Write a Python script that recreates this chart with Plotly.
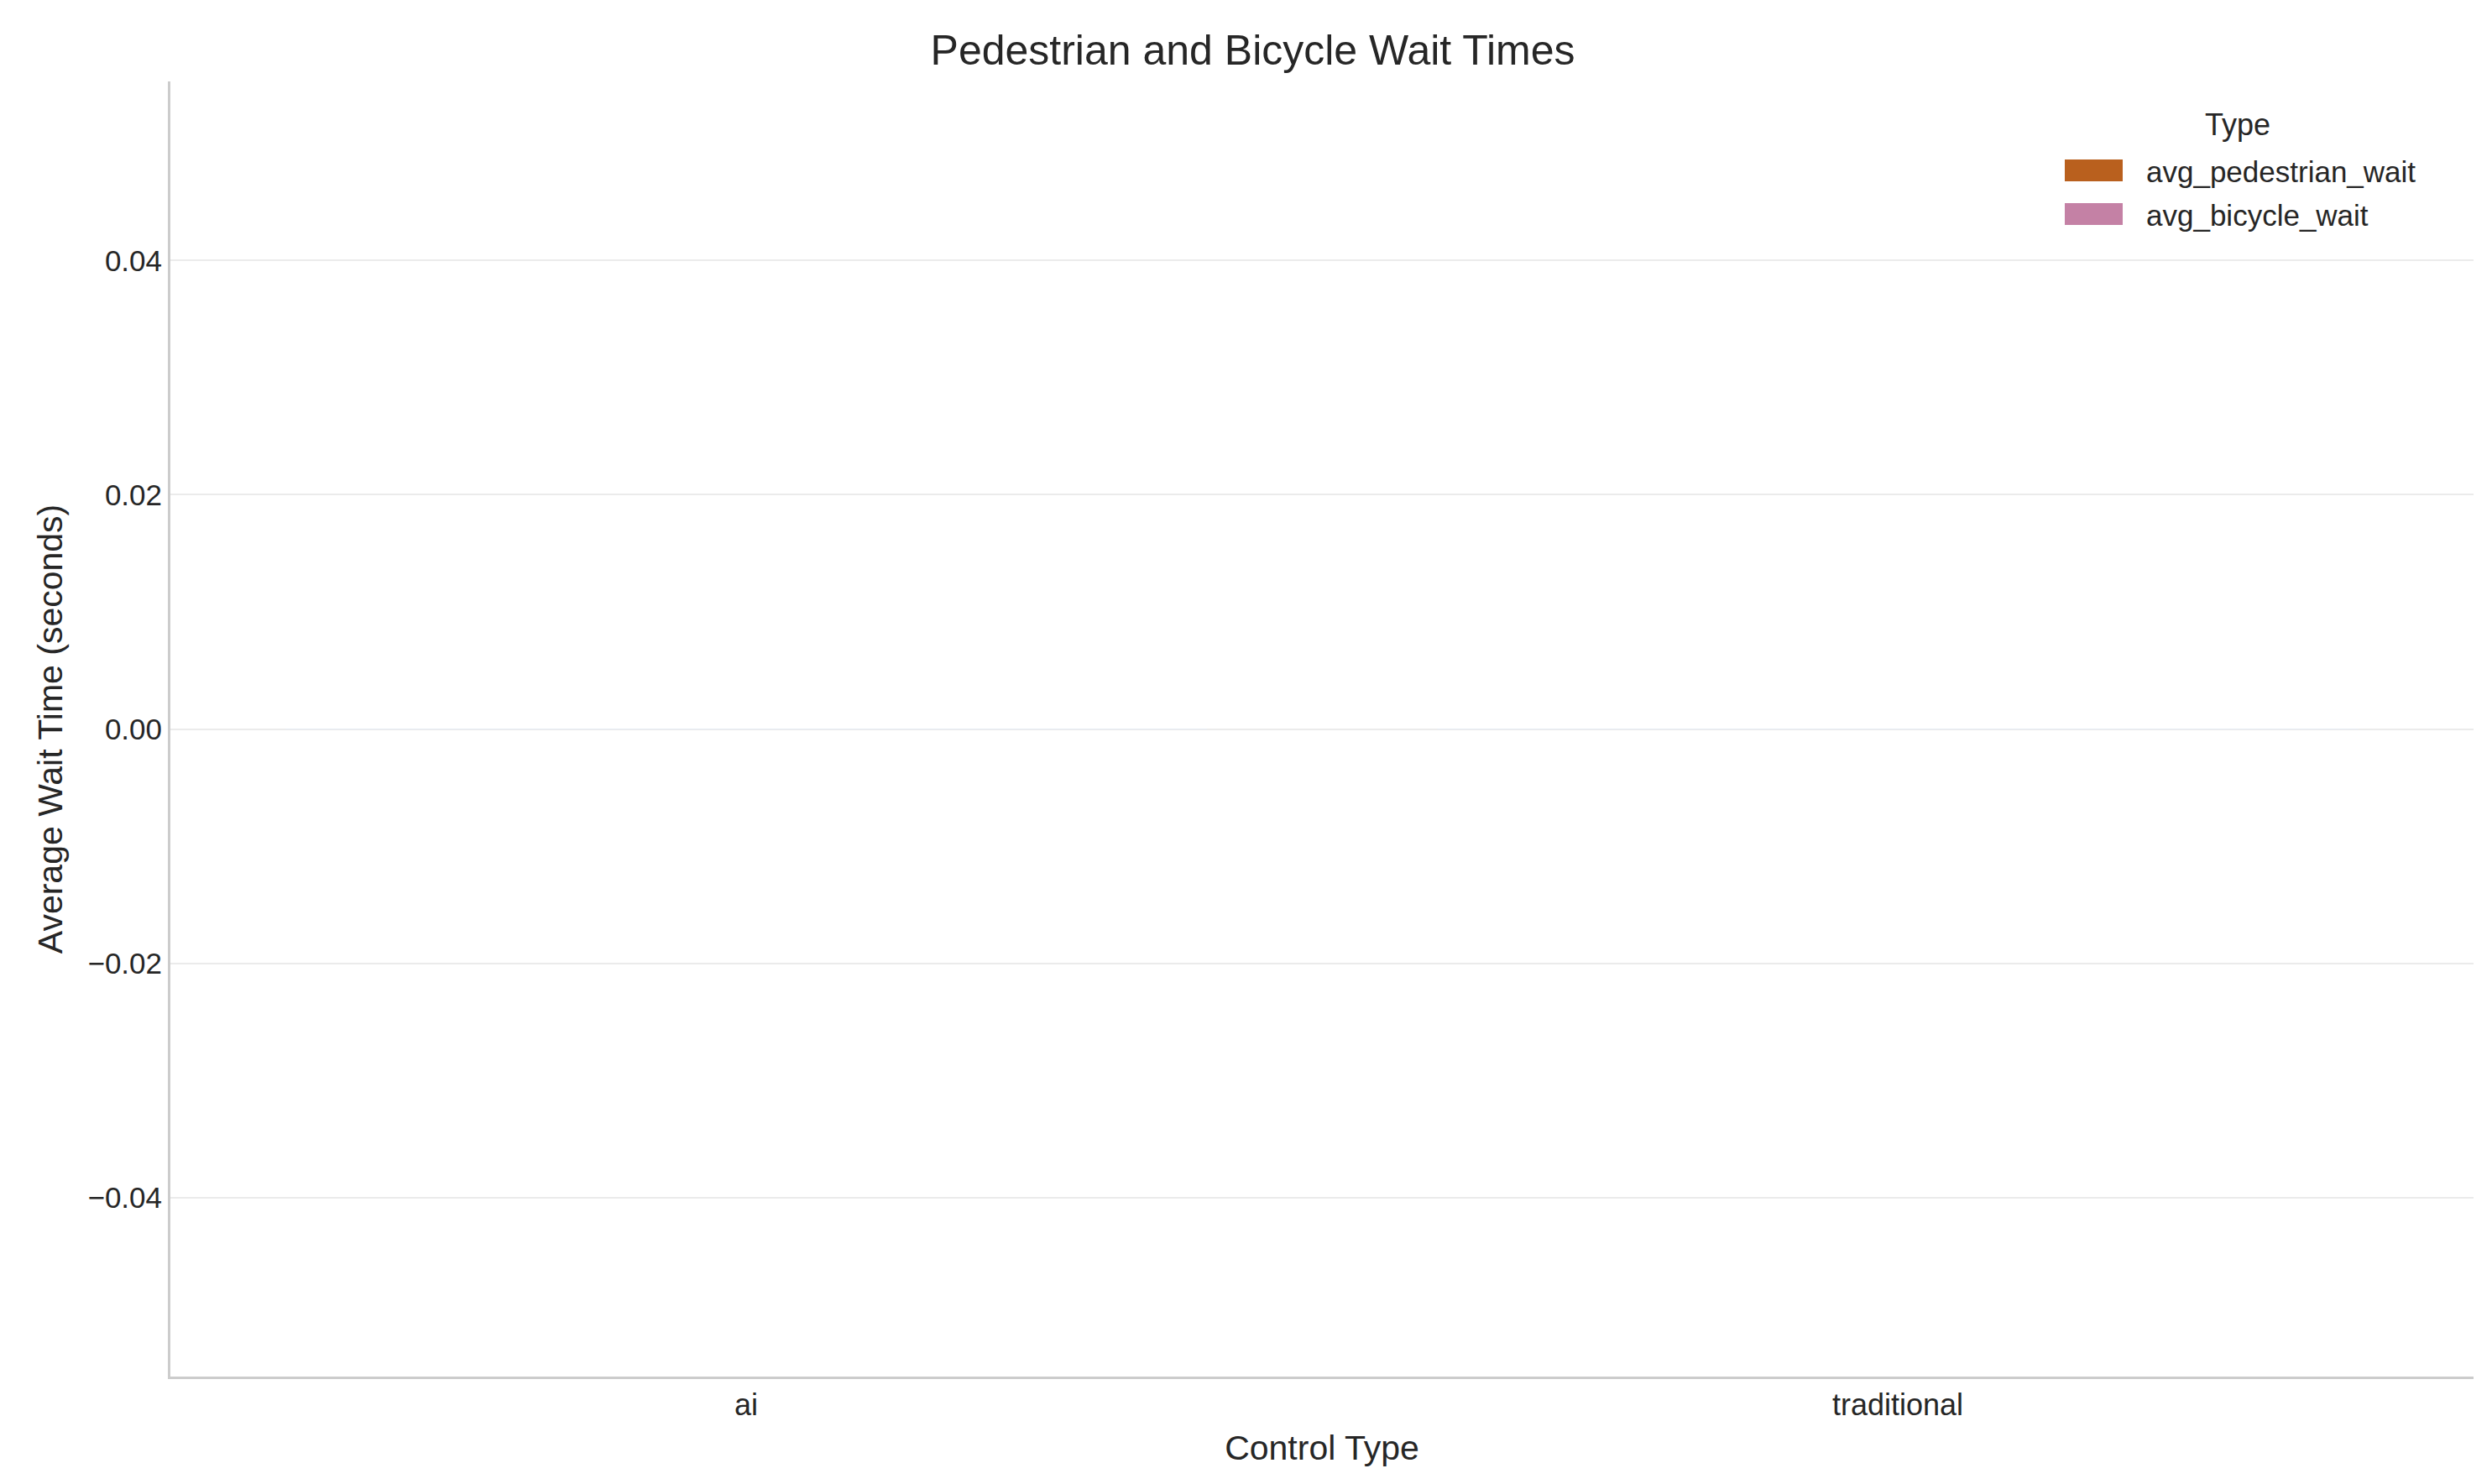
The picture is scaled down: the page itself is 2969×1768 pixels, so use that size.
import plotly.graph_objects as go

control_types = ["ai", "traditional"]
avg_pedestrian_wait = [0.0, 0.0]
avg_bicycle_wait = [0.0, 0.0]
series = ["avg_pedestrian_wait", "avg_bicycle_wait"]
colors = ["#b9601e", "#c481a5"]

W, H = 2969, 1768
L, R, T, B = 195, 30, 89, 136

fig = go.Figure()
fig.add_bar(x=control_types, y=avg_pedestrian_wait, name=series[0],
            marker_color=colors[0], showlegend=False)
fig.add_bar(x=control_types, y=avg_bicycle_wait, name=series[1],
            marker_color=colors[1], showlegend=False)

# legend drawn by hand so swatches are seaborn-style wide rectangles
def px_x(p):
    return (p - L) / (W - L - R)

def px_y(p):
    return (H - B - p) / (H - T - B)

fig.add_annotation(text="Type", x=px_x(2658), y=px_y(140), xref="paper", yref="paper",
                   showarrow=False, font=dict(size=36), xanchor="center", yanchor="middle")
for i, (name, c) in enumerate(zip(series, colors)):
    y0 = 182 + i * 52
    fig.add_shape(type="rect", xref="paper", yref="paper",
                  x0=px_x(2452), x1=px_x(2521), y0=px_y(y0 + 26), y1=px_y(y0),
                  fillcolor=c, line_width=0)
    fig.add_annotation(text=name, x=px_x(2547), y=px_y(y0 + 14), xref="paper", yref="paper",
                       showarrow=False, font=dict(size=35), xanchor="left", yanchor="middle")

fig.update_layout(
    width=W, height=H,
    font=dict(family="Liberation Sans, Arial", size=35, color="#262626"),
    plot_bgcolor="white", paper_bgcolor="white",
    margin=dict(l=L, r=R, t=T, b=B),
    title=dict(text="Pedestrian and Bicycle Wait Times", x=0.5, xanchor="center",
               y=0.971, yanchor="middle", font=dict(size=50)),
    barmode="group",
    showlegend=False,
    xaxis=dict(title=dict(text="Control Type", font=dict(size=41), standoff=18),
               showline=True, linecolor="#cccccc", linewidth=3, showgrid=False,
               ticks="", tickfont=dict(size=36)),
    yaxis=dict(title=dict(text="Average Wait Time (seconds)", font=dict(size=41), standoff=18),
               range=[-0.0553, 0.0553], tickvals=[-0.04, -0.02, 0, 0.02, 0.04],
               ticktext=["\u22120.04", "\u22120.02", "0.00", "0.02", "0.04"],
               showline=True, linecolor="#cccccc", linewidth=3, tickfont=dict(size=35),
               showgrid=True, gridcolor="#ebebeb", gridwidth=2, zeroline=False,
               ticks=""),
)

fig.write_html("out.html")
